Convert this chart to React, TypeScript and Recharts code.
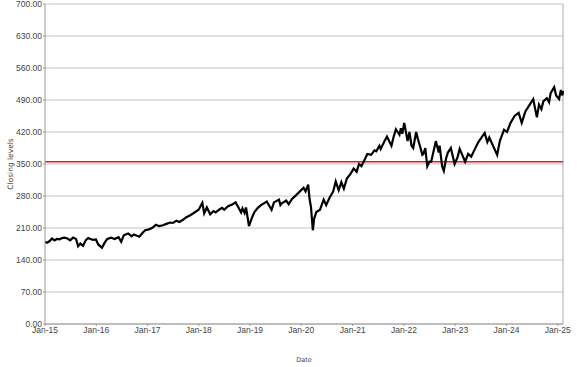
import React from 'react';
import { LineChart, Line, XAxis, YAxis, CartesianGrid, ReferenceLine } from 'recharts';

const dates: string[] = [
  '2015-01-02','2015-01-15','2015-02-01','2015-02-20','2015-03-10','2015-03-25','2015-04-15','2015-05-01','2015-05-20','2015-06-10','2015-06-29','2015-07-20','2015-08-10','2015-08-25','2015-09-10','2015-09-29','2015-10-20','2015-11-05','2015-11-20','2015-12-10','2015-12-30',
  '2016-01-15','2016-02-11','2016-03-01','2016-03-20','2016-04-15','2016-05-10','2016-06-08','2016-06-27','2016-07-15','2016-08-15','2016-09-09','2016-09-25','2016-11-03','2016-11-25','2016-12-15',
  '2017-01-10','2017-02-01','2017-03-01','2017-03-25','2017-04-20','2017-05-15','2017-06-10','2017-07-01','2017-07-25','2017-08-15','2017-09-10','2017-10-01','2017-11-01','2017-12-01','2017-12-30',
  '2018-01-26','2018-02-08','2018-02-27','2018-03-23','2018-04-15','2018-05-01','2018-05-25','2018-06-15','2018-07-01','2018-07-25','2018-08-30','2018-09-20','2018-10-10','2018-10-29','2018-11-08','2018-11-23','2018-12-03','2018-12-24',
  '2019-01-15','2019-02-01','2019-02-25','2019-03-20','2019-04-30','2019-06-03','2019-06-20','2019-07-26','2019-08-05','2019-08-15','2019-09-15','2019-10-03','2019-10-25','2019-11-25','2019-12-15',
  '2020-01-17','2020-01-31','2020-02-19','2020-02-28','2020-03-10','2020-03-23','2020-04-01','2020-04-17','2020-05-13','2020-06-08','2020-06-26','2020-07-20','2020-08-15','2020-09-02','2020-09-23','2020-10-12','2020-10-30','2020-11-20','2020-12-15',
  '2021-01-08','2021-01-29','2021-02-15','2021-03-04','2021-03-25','2021-04-15','2021-05-12','2021-06-05','2021-06-18','2021-07-10','2021-07-19','2021-08-15','2021-09-02','2021-10-04','2021-10-20','2021-11-05','2021-11-30','2021-12-10','2021-12-20',
  '2022-01-03','2022-01-27','2022-02-09','2022-02-24','2022-03-08','2022-03-29','2022-04-10','2022-04-29','2022-05-12','2022-05-20','2022-06-02','2022-06-16','2022-07-01','2022-07-14','2022-08-16','2022-09-06','2022-09-12','2022-09-30','2022-10-12','2022-10-28','2022-11-10','2022-12-01','2022-12-28',
  '2023-01-18','2023-02-02','2023-03-13','2023-04-03','2023-04-25','2023-05-20','2023-06-15','2023-07-30','2023-08-18','2023-09-01','2023-10-27','2023-11-15','2023-12-15',
  '2024-01-05','2024-01-30','2024-02-28','2024-03-28','2024-04-19','2024-05-15','2024-06-15','2024-07-10','2024-07-24','2024-08-05','2024-08-20','2024-09-06','2024-09-20','2024-10-15','2024-10-31','2024-11-11','2024-12-06','2024-12-20',
  '2025-01-10','2025-01-23','2025-02-03','2025-02-07',
];

const closes: number[] = [
  180,178,181,187,183,186,185,188,189,187,183,189,186,170,176,171,184,188,186,184,185,
  174,167,178,186,189,186,190,180,194,198,192,196,191,199,205,
  207,210,217,214,216,219,222,221,226,223,228,233,238,244,250,
  265,242,255,240,247,244,250,254,250,257,262,266,255,244,253,243,255,214,
  233,245,254,260,268,250,266,272,260,264,270,262,273,282,288,
  298,290,305,275,255,205,230,245,250,272,260,276,290,312,293,310,296,318,328,
  340,333,350,345,358,372,370,380,378,390,383,400,410,390,410,426,414,428,416,
  440,400,420,390,385,420,405,385,370,372,385,345,355,355,400,375,390,345,335,362,375,385,350,
  365,383,355,372,366,382,398,418,398,408,370,400,425,
  420,440,455,462,440,465,480,492,470,452,480,470,487,494,485,505,518,500,
  492,512,500,510,
];

const yTicks: number[] = [0, 70, 140, 210, 280, 350, 420, 490, 560, 630, 700];
const xTickYears: number[] = [2015, 2016, 2017, 2018, 2019, 2020, 2021, 2022, 2023, 2024, 2025];
const threshold = 355;

const months = ['Jan','Feb','Mar','Apr','May','Jun','Jul','Aug','Sep','Oct','Nov','Dec'];
const toTs = (s: string) => {
  const [y, m, d] = s.split('-').map(Number);
  return Date.UTC(y, m - 1, d);
};

const data = dates.map((d, i) => ({ t: toTs(d), v: closes[i] }));
const xTicks = xTickYears.map((y) => Date.UTC(y, 0, 1));
const xMin = Date.UTC(2015, 0, 1);
const xMax = data[data.length - 1].t;

const fmtDate = (t: number) => {
  const d = new Date(t);
  return `${months[d.getUTCMonth()]}-${String(d.getUTCFullYear()).slice(2)}`;
};

const tickStyle = { fontFamily: 'Liberation Sans', fontSize: 8.5, fill: '#444' };

const YLabel = (props: any) => {
  const vb = props.viewBox || {};
  const x = 10;
  const y = (vb.y ?? 4) + (vb.height ?? 320) / 2;
  return (
    <text
      x={x}
      y={y}
      transform={`rotate(-90 ${x} ${y})`}
      textAnchor="middle"
      dominantBaseline="central"
      fontFamily="DejaVu Sans"
      fontSize={7.5}
      fill="#444"
    >
      Closing levels
    </text>
  );
};

const XLabel = (props: any) => {
  const vb = props.viewBox || {};
  const x = (vb.x ?? 45) + (vb.width ?? 518) / 2;
  return (
    <text x={x} y={362} textAnchor="middle" fontFamily="DejaVu Sans" fontSize={6.5} fill="#444">
      Date
    </text>
  );
};

export default function App() {
  return (
    <div style={{ position: 'absolute', left: 0, top: 0, background: '#fff' }}>
      <LineChart width={577} height={367} data={data} margin={{ top: 4, right: 14, left: 0, bottom: 0 }}>
        <CartesianGrid vertical={false} stroke="#c4c4c4" />
        <XAxis
          dataKey="t"
          type="number"
          domain={[xMin, xMax]}
          ticks={xTicks}
          tickFormatter={fmtDate}
          height={43}
          tickSize={2}
          tickMargin={1}
          tick={tickStyle}
          stroke="#999"
          interval={0}
          label={<XLabel />}
        />
        <YAxis
          domain={[0, 700]}
          ticks={yTicks}
          tickFormatter={(v: number) => v.toFixed(2)}
          width={45}
          tickSize={2}
          tickMargin={1}
          tick={tickStyle}
          stroke="#999"
          interval={0}
          label={<YLabel />}
        />
        <ReferenceLine x={xMax} stroke="#aaa" ifOverflow="extendDomain" />
        <ReferenceLine y={threshold} stroke="#e3191c" strokeWidth={1.6} />
        <Line
          type="linear"
          dataKey="v"
          stroke="#000"
          strokeWidth={2.2}
          dot={false}
          isAnimationActive={false}
        />
      </LineChart>
    </div>
  );
}
